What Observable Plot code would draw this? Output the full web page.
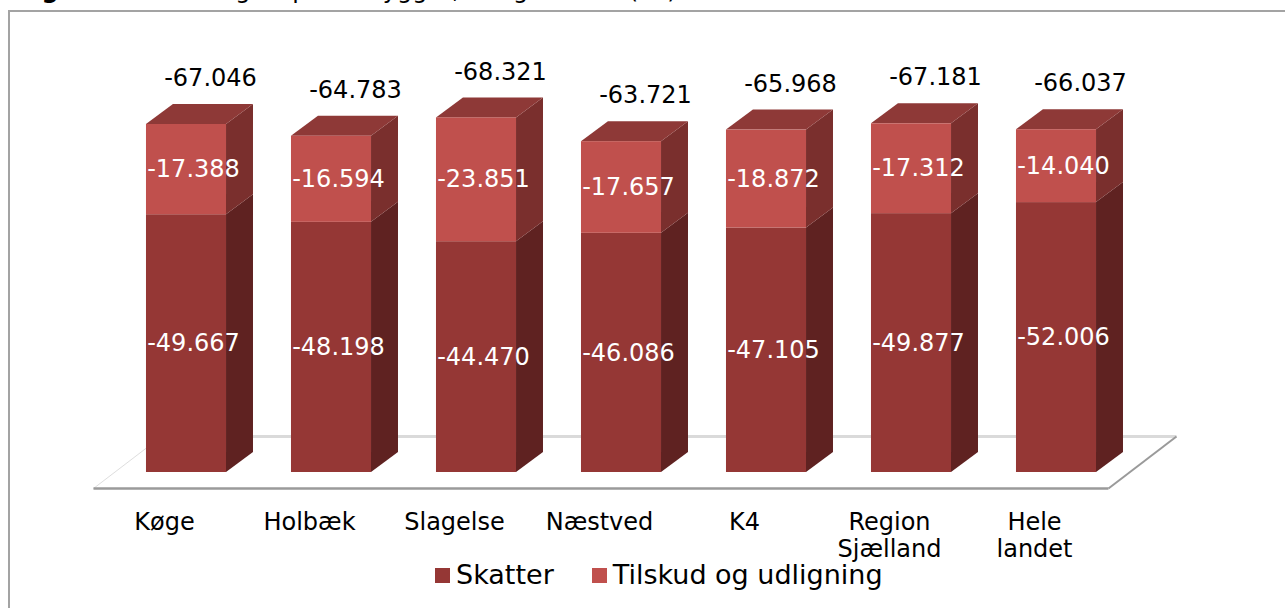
<!DOCTYPE html>
<html>
<head>
<meta charset="utf-8">
<script src="https://cdn.jsdelivr.net/npm/d3@7"></script>
<script src="https://cdn.jsdelivr.net/npm/@observablehq/plot@0.6"></script>
<style>
  html, body { margin: 0; padding: 0; background: #fff; }
  body { width: 1285px; height: 608px; overflow: hidden; position: relative; font-family: "DejaVu Sans", Verdana, sans-serif; }
  #title { position: absolute; left: 17px; top: -21px; font-size: 24px; line-height: 22px; white-space: nowrap; color: #000; }
  #title b { margin-right: 52px; }
  #frame { position: absolute; left: 8px; top: 10px; width: 1310px; height: 640px; border: 2px solid #a3a3a3; box-sizing: border-box; }
  #chart { position: absolute; left: 0; top: 0; }
  #legend { position: absolute; left: 435px; top: 560px; height: 30px; display: flex; align-items: center; font-size: 27px; line-height: 30px; color: #000; white-space: nowrap; }
  #legend .sw { width: 15px; height: 15px; display: inline-block; margin-right: 6px; }
  #legend .item { display: flex; align-items: center; margin-right: 38px; }
</style>
</head>
<body>
<div id="title"><b>Figur 3</b>Indtægter pr. indbygger, budget 2013 (kr.)</div>
<div id="frame"></div>
<div id="chart"></div>
<div id="legend"></div>
<script>
// ---- data ----
const categories = ["Køge", "Holbæk", "Slagelse", "Næstved", "K4", "Region\nSjælland", "Hele\nlandet"];
const skatter = [-49667, -48198, -44470, -46086, -47105, -49877, -52006];
const tilskud = [-17388, -16594, -23851, -17657, -18872, -17312, -14040];
const totals  = [-67046, -64783, -68321, -63721, -65968, -67181, -66037];
const seriesNames = ["Skatter", "Tilskud og udligning"];

// ---- styling ----
const frontColors = ["#953735", "#C0504D"];
const sideColors  = ["#5F2221", "#7A2F2D"];
const topColor = "#8E3937";
const halfW = 0.276;          // half bar width (category units)
const depthX = 0.186;         // 3D depth, x (category units)
const depthY = 3850;          // 3D depth, y (value units)
const floorDX = 0.469, floorDY = 10020;

const fmt = d3.formatLocale({decimal: ",", thousands: ".", grouping: [3], currency: ["", " kr."], minus: "-"}).format(",d");

// segments (plotted upward by magnitude)
const segs = [];
categories.forEach((c, i) => {
  const s = -skatter[i], t = -tilskud[i];
  segs.push({i, series: 0, y1: 0, y2: s, value: skatter[i]});
  segs.push({i, series: 1, y1: s, y2: s + t, value: tilskud[i]});
});
const sidePts = segs.flatMap((d, k) => [
  {z: k, x: d.i + halfW, y1: d.y1, y2: d.y2, fill: sideColors[d.series]},
  {z: k, x: d.i + halfW + depthX, y1: d.y1 + depthY, y2: d.y2 + depthY, fill: sideColors[d.series]}
]);
const tops = segs.filter(d => d.series === 1);
const topPts = tops.flatMap((d, k) => [
  {z: k, y: d.y2, x1: d.i - halfW, x2: d.i + halfW},
  {z: k, y: d.y2 + depthY, x1: d.i - halfW + depthX, x2: d.i + halfW + depthX}
]);
const n = categories.length;
const fy0 = depthY / 2 - floorDY / 2, fy1 = fy0 + floorDY;
const fx0 = -0.5 + depthX / 2 - floorDX / 2, fx1 = fx0 + n;
const floorPts = [
  {y: fy0, x1: fx0, x2: fx1},
  {y: fy1, x1: fx0 + floorDX, x2: fx1 + floorDX}
];
const cats = categories.map((c, i) => ({c, i, total: totals[i], top: -skatter[i] - tilskud[i]}));

const pxPerUnit = 5.19 / 1000;
const chart = Plot.plot({
  width: 1285,
  height: 548,
  x: {type: "linear", domain: [0, 6], range: [186, 1056], axis: null},
  y: {type: "linear", domain: [0, 70000], range: [472, 472 - 70000 * pxPerUnit], axis: null},
  color: {type: "identity"},
  style: {fontFamily: "DejaVu Sans, Verdana, sans-serif", background: "transparent", overflow: "visible"},
  marks: [
    // floor
    Plot.areaX(floorPts, {y: "y", x1: "x1", x2: "x2", fill: "#ffffff"}),
    Plot.link([0], {x1: () => fx0 + floorDX, y1: () => fy1, x2: () => fx1 + floorDX, y2: () => fy1, stroke: "#dadada", strokeWidth: 3}),
    Plot.link([0], {x1: () => fx0, y1: () => fy0, x2: () => fx0 + floorDX, y2: () => fy1, stroke: "#dedede", strokeWidth: 1}),
    Plot.link([0], {x1: () => fx1, y1: () => fy0, x2: () => fx1 + floorDX, y2: () => fy1, stroke: "#9a9a9a", strokeWidth: 2}),
    Plot.link([0], {x1: () => fx0, y1: () => fy0, x2: () => fx1, y2: () => fy0, stroke: "#9a9a9a", strokeWidth: 2.5}),
    // bars: side, top, front
    Plot.areaY(sidePts, {x: "x", y1: "y1", y2: "y2", z: "z", fill: "fill"}),
    Plot.areaX(topPts, {y: "y", x1: "x1", x2: "x2", z: "z", fill: topColor}),
    Plot.rect(segs, {x1: d => d.i - halfW, x2: d => d.i + halfW, y1: "y1", y2: "y2", fill: d => frontColors[d.series]}),
    // labels inside segments
    Plot.text(segs, {x: "i", y: d => (d.y1 + d.y2) / 2, text: d => fmt(d.value), dx: 7, fill: "#ffffff", fontSize: 24}),
    // total labels
    Plot.text(cats, {x: "i", y: "top", text: d => fmt(d.total), dx: 24, dy: -46, fill: "#000000", fontSize: 24}),
    // category labels
    Plot.text(cats, {x: "i", y: () => 0, text: "c", dx: -22, dy: 38, lineAnchor: "top", lineHeight: 1.14, fill: "#000000", fontSize: 24})
  ]
});
document.getElementById("chart").appendChild(chart);

// legend
const legend = document.getElementById("legend");
seriesNames.forEach((name, k) => {
  const item = document.createElement("span");
  item.className = "item";
  const sw = document.createElement("span");
  sw.className = "sw";
  sw.style.background = frontColors[k];
  item.appendChild(sw);
  item.appendChild(document.createTextNode(name));
  legend.appendChild(item);
});
</script>
</body>
</html>
